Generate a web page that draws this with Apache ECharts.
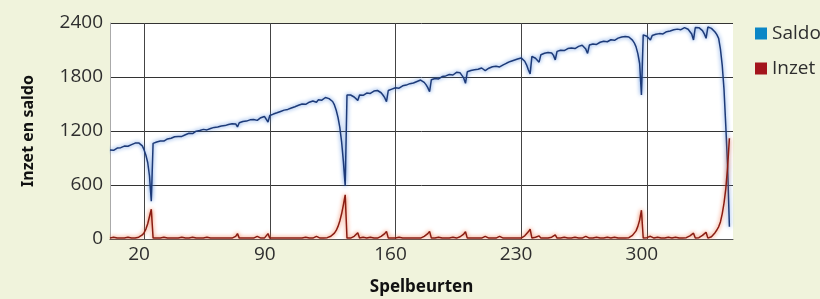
<!DOCTYPE html>
<html>
<head>
<meta charset="utf-8">
<script src="https://cdn.jsdelivr.net/npm/echarts@6/dist/echarts.min.js"></script>
<style>
  html, body { margin: 0; padding: 0; background: #f0f3dc; }
  #chart { width: 820px; height: 299px; }
</style>
</head>
<body>
<div id="chart"></div>
<script>
// saldo per spelbeurt (beurt 1 .. 346)
const saldo = [
  990, 998, 985, 1000, 1010, 995, 1015, 1025, 1032, 1040,
  1030, 1010, 1048, 1058, 1066, 1075, 1068, 1055, 1035, 990,
  930, 850, 700, 420, 1063, 1070, 1078, 1065, 1088, 1098,
  1088, 1105, 1112, 1100, 1120, 1128, 1136, 1115, 1140, 1148,
  1140, 1122, 1158, 1166, 1175, 1185, 1172, 1192, 1198, 1180,
  1205, 1212, 1218, 1225, 1212, 1190, 1228, 1234, 1240, 1228,
  1244, 1250, 1256, 1244, 1260, 1266, 1272, 1260, 1280, 1292,
  1278, 1245, 1292, 1300, 1306, 1294, 1310, 1318, 1324, 1312,
  1328, 1335, 1318, 1340, 1348, 1355, 1362, 1345, 1300, 1372,
  1380, 1388, 1394, 1402, 1410, 1417, 1425, 1432, 1422, 1440,
  1448, 1455, 1462, 1470, 1478, 1486, 1494, 1500, 1507, 1496,
  1512, 1520, 1527, 1534, 1540, 1520, 1546, 1554, 1542, 1562,
  1572, 1568, 1560, 1548, 1528, 1490, 1430, 1350, 1240, 1080,
  860, 590, 1600, 1596, 1600, 1590, 1578, 1562, 1540, 1600,
  1608, 1596, 1614, 1622, 1630, 1618, 1636, 1644, 1632, 1650,
  1640, 1625, 1600, 1570, 1526, 1650, 1658, 1665, 1672, 1680,
  1688, 1676, 1694, 1702, 1690, 1710, 1718, 1726, 1714, 1734,
  1742, 1750, 1758, 1766, 1756, 1740, 1715, 1682, 1636, 1770,
  1777, 1784, 1791, 1778, 1798, 1805, 1792, 1812, 1820, 1828,
  1836, 1822, 1844, 1852, 1860, 1846, 1825, 1790, 1730, 1858,
  1865, 1872, 1860, 1880, 1868, 1886, 1893, 1900, 1890, 1872,
  1890, 1898, 1906, 1914, 1902, 1920, 1926, 1912, 1890, 1935,
  1945, 1955, 1965, 1973, 1980, 1987, 1994, 2000, 2006, 2012,
  2000, 1975, 1935, 1880, 1835, 2030, 2022, 2008, 1990, 1965,
  2048, 2056, 2064, 2052, 2072, 2078, 2066, 2040, 1990, 2085,
  2092, 2098, 2105, 2094, 2110, 2116, 2104, 2122, 2128, 2116,
  2134, 2140, 2146, 2152, 2138, 2110, 2062, 2155, 2161, 2167,
  2174, 2162, 2180, 2186, 2192, 2198, 2204, 2192, 2208, 2214,
  2220, 2208, 2226, 2232, 2238, 2244, 2232, 2250, 2254, 2244,
  2230, 2210, 2180, 2135, 2060, 1950, 1600, 2268, 2262, 2252,
  2232, 2210, 2262, 2268, 2274, 2262, 2282, 2290, 2278, 2298,
  2304, 2292, 2312, 2318, 2324, 2312, 2332, 2338, 2326, 2344,
  2348, 2342, 2330, 2312, 2278, 2212, 2350, 2354, 2348, 2336,
  2315, 2280, 2230, 2355, 2350, 2340, 2325, 2300, 2270, 2230,
  2110, 1930, 1660, 1250, 800, 137
]

// inzet per spelbeurt
const inzet = [
  10, 10, 20, 10, 10, 20, 10, 10, 10, 10,
  20, 40, 10, 10, 10, 10, 20, 30, 45, 70,
  110, 170, 250, 330, 10, 10, 10, 20, 10, 10,
  20, 10, 10, 20, 10, 10, 10, 30, 10, 10,
  20, 40, 10, 10, 10, 10, 20, 10, 10, 30,
  10, 10, 10, 10, 20, 40, 10, 10, 10, 20,
  10, 10, 10, 20, 10, 10, 10, 20, 10, 10,
  30, 60, 10, 10, 10, 20, 10, 10, 10, 20,
  10, 10, 30, 10, 10, 10, 10, 30, 60, 10,
  10, 10, 10, 10, 10, 10, 10, 10, 20, 10,
  10, 10, 10, 10, 10, 10, 10, 10, 10, 20,
  10, 10, 10, 10, 10, 30, 10, 10, 20, 10,
  10, 15, 20, 30, 45, 65, 95, 140, 200, 280,
  380, 490, 10, 10, 10, 20, 30, 45, 70, 10,
  10, 20, 10, 10, 10, 20, 10, 10, 20, 10,
  20, 30, 45, 60, 85, 10, 10, 10, 10, 10,
  10, 20, 10, 10, 20, 10, 10, 10, 20, 10,
  10, 10, 10, 10, 20, 30, 45, 60, 85, 10,
  10, 10, 10, 20, 10, 10, 20, 10, 10, 10,
  10, 20, 10, 10, 10, 25, 40, 55, 80, 10,
  10, 10, 20, 10, 20, 10, 10, 10, 20, 30,
  10, 10, 10, 10, 20, 10, 10, 30, 45, 10,
  10, 10, 10, 10, 10, 10, 10, 10, 10, 10,
  20, 35, 55, 80, 110, 10, 15, 20, 25, 35,
  10, 10, 10, 20, 10, 10, 20, 30, 45, 10,
  10, 10, 10, 20, 10, 10, 20, 10, 10, 20,
  10, 10, 10, 10, 20, 30, 45, 10, 10, 10,
  10, 20, 10, 10, 10, 10, 10, 20, 10, 10,
  10, 20, 10, 10, 10, 10, 20, 10, 10, 15,
  25, 40, 60, 90, 140, 210, 320, 10, 10, 15,
  20, 30, 10, 10, 10, 20, 10, 10, 20, 10,
  10, 20, 10, 10, 10, 20, 10, 10, 20, 10,
  10, 15, 25, 35, 50, 65, 10, 10, 15, 25,
  40, 55, 75, 10, 15, 25, 45, 70, 100, 135,
  190, 280, 400, 560, 800, 1120
]

const xTicks = [20, 90, 160, 230, 300]

const chart = echarts.init(document.getElementById('chart'), null, { renderer: 'canvas' })

const labelFont = {
  fontFamily: 'Open Sans',
  fontSize: 19,
  color: '#2e2e2e',
}

const option = {
  backgroundColor: '#f0f3dc',
  animation: false,
  grid: {
    left: 110,
    right: 87,
    top: 23,
    bottom: 60,
    outerBoundsMode: 'none',
    backgroundColor: '#ffffff',
    show: true,
    borderWidth: 0,
  },
  legend: {
    orient: 'vertical',
    left: 750,
    top: 19,
    itemWidth: 12,
    itemHeight: 12,
    itemGap: 16,
    itemTextGap: 7,
    icon: 'rect',
    textStyle: labelFont,
    data: [
      { name: 'Saldo', itemStyle: { color: '#0b86c6' } },
      { name: 'Inzet', itemStyle: { color: '#a3141c' } },
    ],
  },
  xAxis: {
    type: 'value',
    min: 1,
    max: 348,
    name: 'Spelbeurten',
    nameLocation: 'middle',
    nameGap: 40,
    nameTextStyle: {
      fontFamily: 'Noto Sans',
      fontWeight: 'bold',
      fontSize: 17,
      color: '#111',
    },
    axisLine: { show: true, lineStyle: { color: '#555', width: 1 } },
    axisTick: { show: false, customValues: xTicks },
    axisLabel: {
      ...labelFont,
      customValues: xTicks,
      margin: 6,
      padding: [0, 10, 0, 0],
      formatter: (v) => String(v),
    },
    splitLine: { show: true, lineStyle: { color: '#444', width: 1 } },
  },
  yAxis: {
    type: 'value',
    min: 0,
    max: 2400,
    interval: 600,
    name: 'Inzet en saldo',
    nameLocation: 'middle',
    nameGap: 74,
    nameTextStyle: {
      fontFamily: 'Noto Sans',
      fontWeight: 'bold',
      fontSize: 16,
      color: '#111',
    },
    axisLine: { show: true, lineStyle: { color: '#aaa', width: 1 } },
    axisTick: { show: false },
    axisLabel: { ...labelFont, margin: 7, formatter: (v) => String(v) },
    splitLine: { show: true, lineStyle: { color: '#333', width: 1 } },
  },
  series: [
    {
      name: 'Saldo',
      type: 'line',
      symbol: 'none',
      data: saldo.map((v, i) => [i + 1, v]),
      itemStyle: { color: '#0b86c6' },
      lineStyle: {
        color: '#1d3a78',
        width: 1.5,
        shadowColor: 'rgba(70,130,220,1)',
        shadowBlur: 4,
      },
    },
    {
      name: 'Inzet',
      type: 'line',
      symbol: 'none',
      data: inzet.map((v, i) => [i + 1, v]),
      itemStyle: { color: '#a3141c' },
      lineStyle: {
        color: '#8a1c12',
        width: 1.5,
        shadowColor: 'rgba(235,95,45,1)',
        shadowBlur: 4,
      },
    },
  ],
}

chart.setOption(option)
</script>
</body>
</html>
